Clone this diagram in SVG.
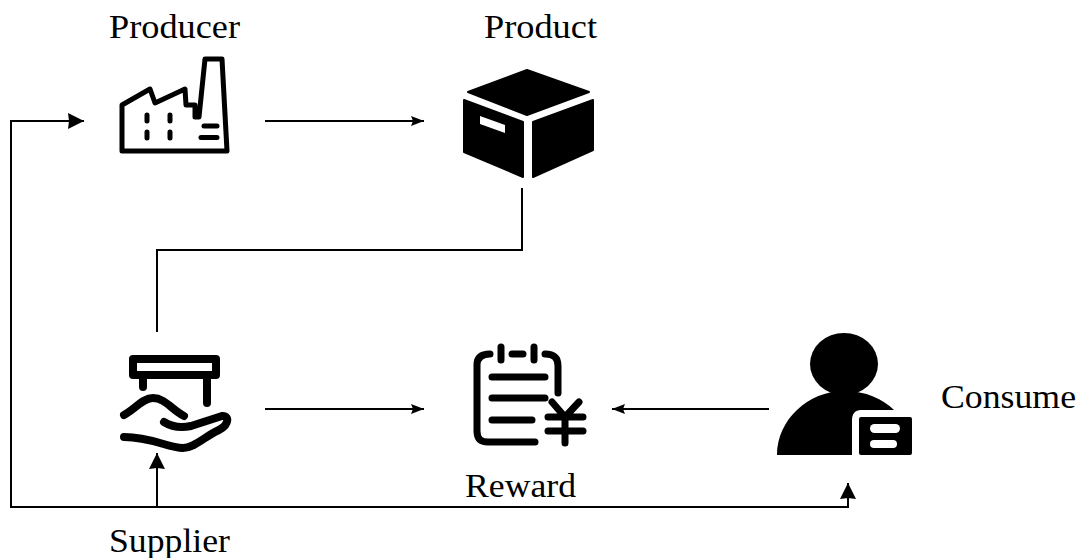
<svg xmlns="http://www.w3.org/2000/svg" width="1081" height="558" viewBox="0 0 1081 558">
<defs>
<marker id="arr" markerUnits="userSpaceOnUse" markerWidth="14" markerHeight="12" refX="13" refY="6" orient="auto"><path d="M0 1 L13 6 L0 11 L2 6 Z" fill="#000"/></marker>
<marker id="big" markerUnits="userSpaceOnUse" markerWidth="18" markerHeight="18" refX="16" refY="9" orient="auto"><path d="M0 1 L16 9 L0 17 L1 9 Z" fill="#000"/></marker>
</defs>
<style>
.lbl{font-family:"Liberation Serif","Times New Roman",serif;font-size:34px;fill:#000}
.c{fill:none;stroke:#000;stroke-width:2}
.s{fill:none;stroke:#000;stroke-width:5;stroke-linecap:round;stroke-linejoin:round}
.t{fill:none;stroke:#000;stroke-width:8;stroke-linecap:round;stroke-linejoin:round}
.r{fill:none;stroke:#000;stroke-width:7;stroke-linecap:round;stroke-linejoin:round}
.b{fill:#000;stroke:#000;stroke-width:2;stroke-linejoin:round}
</style>
<rect width="1081" height="558" fill="#fff"/>
<g id="connectors">
<path class="c" d="M265 121H424" marker-end="url(#arr)"/>
<path class="c" d="M522 188V250H157V332"/>
<path class="c" d="M265 409H424" marker-end="url(#arr)"/>
<path class="c" d="M769 409H612" marker-end="url(#arr)"/>
<path class="c" d="M157 507V453" marker-end="url(#big)"/>
<path class="c" d="M157 507H11V121H84" marker-end="url(#big)"/>
<path class="c" d="M157 507H848V483" marker-end="url(#big)"/>
</g>
<g id="producer">
<path class="s" d="M122 105L150 89L155 103L185 89L186 105H195V117H199L205 59H222L227 151H122Z"/>
<path class="s" d="M147 115V121M147 132V138M170 115V121M170 132V138M204 126H217M201 137.500H217"/>
<text class="lbl" x="109" y="38" textLength="131" lengthAdjust="spacingAndGlyphs">Producer</text>
</g>
<g id="product">
<path class="b" d="M527 70L589 92L527 115L468 92Z"/>
<path class="b" d="M464 100L523 122V177L464 152Z"/>
<path class="b" d="M533 122L593 100V150L533 177Z"/>
<path d="M480 116L505 125V133L480 124Z" fill="#fff"/>
<text class="lbl" x="484" y="38" textLength="113" lengthAdjust="spacingAndGlyphs">Product</text>
</g>
<g id="supplier">
<path class="t" d="M133 359H216V375H133ZM143 378V387M207 378V403"/>
<path class="t" d="M124 415C135 409 143 398 153 398C165 398 172 410 184 416"/>
<path class="t" d="M164 422C172 427 182 428 191 426L222 416C229 415 230 424 219 430C205 436 195 448 183 448C168 448 152 437 124 437"/>
<text class="lbl" x="109" y="552" textLength="121" lengthAdjust="spacingAndGlyphs">Supplier</text>
</g>
<g id="reward">
<path class="r" d="M490 354C481 354 477 358 477 365V431C477 439 481 442 488 442H535M501 347V360M512 354H523M534 347V360M545 354C554 354 558 358 558 366V393M492 377H545M492 398H545M492 420H532M552 402L565 417L579 402M548 417H583M548 431H583M565 417V443"/>
<text class="lbl" x="465" y="497" textLength="111" lengthAdjust="spacingAndGlyphs">Reward</text>
</g>
<g id="consumer">
<ellipse cx="844" cy="364" rx="34" ry="31" fill="#000"/>
<path d="M777 455C777 420 808 391 844 391C866 391 883 399 894 410H861C855 410 852 414 852 420V455Z" fill="#000"/>
<rect x="859" y="417" width="53" height="38" rx="2" fill="#000"/>
<rect x="870" y="424" width="30" height="9" rx="4.500" fill="#fff"/>
<rect x="870" y="440" width="27" height="8" rx="4" fill="#fff"/>
<text class="lbl" x="941" y="408" textLength="135" lengthAdjust="spacingAndGlyphs">Consume</text>
</g>
</svg>
